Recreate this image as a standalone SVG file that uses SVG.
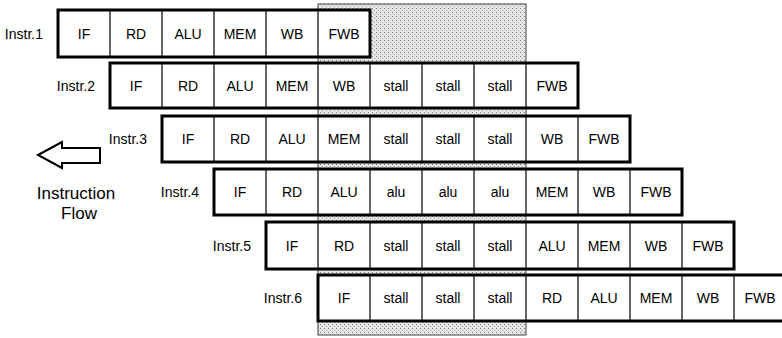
<svg xmlns="http://www.w3.org/2000/svg" width="782" height="338" viewBox="0 0 782 338">
<style>
text{font-family:"Liberation Sans",Arial,Helvetica,sans-serif;fill:#000}
.c{font-size:14px;text-anchor:middle}
.l{font-size:14px;text-anchor:end}
.f{font-size:17px;text-anchor:middle}
.row{fill:#fff;stroke:#000;stroke-width:3}
.div{stroke:#000;stroke-width:1.2}
</style>
<defs>
<pattern id="dots" width="4" height="4" patternUnits="userSpaceOnUse">
<rect width="4" height="4" fill="#e6e6e6"/>
<rect x="0" y="0" width="1" height="1" fill="#7a7a7a"/>
<rect x="2" y="2" width="1" height="1" fill="#9a9a9a"/>
</pattern>
</defs>
<rect id="shade" x="318" y="4" width="208" height="331" fill="url(#dots)" stroke="#444" stroke-width="1"/>
<g id="connectors"></g>
<g id="flow-arrow">
<path d="M38,155 L62,142 L62,148 L100,148 L100,163 L62,163 L62,168 Z" fill="#fff" stroke="#000" stroke-width="2" stroke-linejoin="miter"/>
<text class="f" x="76" y="199">Instruction</text>
<text class="f" x="79" y="219">Flow</text>
</g>
<g id="instr1">
<text class="l" x="43" y="39">Instr.1</text>
<rect class="row" x="58" y="10" width="312" height="47"/>
<path class="div" d="M110,10V57M162,10V57M214,10V57M266,10V57M318,10V57"/>
<text class="c" x="84" y="39">IF</text><text class="c" x="136" y="39">RD</text><text class="c" x="188" y="39">ALU</text><text class="c" x="240" y="39">MEM</text><text class="c" x="292" y="39">WB</text><text class="c" x="344" y="39">FWB</text>
</g>
<g id="instr2">
<text class="l" x="95" y="91">Instr.2</text>
<rect class="row" x="110" y="63" width="468" height="45"/>
<path class="div" d="M162,63V108M214,63V108M266,63V108M318,63V108M370,63V108M422,63V108M474,63V108M526,63V108"/>
<text class="c" x="136" y="91">IF</text><text class="c" x="188" y="91">RD</text><text class="c" x="240" y="91">ALU</text><text class="c" x="292" y="91">MEM</text><text class="c" x="344" y="91">WB</text><text class="c" x="396" y="91">stall</text><text class="c" x="448" y="91">stall</text><text class="c" x="500" y="91">stall</text><text class="c" x="552" y="91">FWB</text>
</g>
<g id="instr3">
<text class="l" x="147" y="144">Instr.3</text>
<rect class="row" x="162" y="116" width="468" height="46"/>
<path class="div" d="M214,116V162M266,116V162M318,116V162M370,116V162M422,116V162M474,116V162M526,116V162M578,116V162"/>
<text class="c" x="188" y="144">IF</text><text class="c" x="240" y="144">RD</text><text class="c" x="292" y="144">ALU</text><text class="c" x="344" y="144">MEM</text><text class="c" x="396" y="144">stall</text><text class="c" x="448" y="144">stall</text><text class="c" x="500" y="144">stall</text><text class="c" x="552" y="144">WB</text><text class="c" x="604" y="144">FWB</text>
</g>
<g id="instr4">
<text class="l" x="199" y="197">Instr.4</text>
<rect class="row" x="214" y="169" width="468" height="46"/>
<path class="div" d="M266,169V215M318,169V215M370,169V215M422,169V215M474,169V215M526,169V215M578,169V215M630,169V215"/>
<text class="c" x="240" y="197">IF</text><text class="c" x="292" y="197">RD</text><text class="c" x="344" y="197">ALU</text><text class="c" x="396" y="197">alu</text><text class="c" x="448" y="197">alu</text><text class="c" x="500" y="197">alu</text><text class="c" x="552" y="197">MEM</text><text class="c" x="604" y="197">WB</text><text class="c" x="656" y="197">FWB</text>
</g>
<g id="instr5">
<text class="l" x="251" y="251">Instr.5</text>
<rect class="row" x="266" y="222" width="468" height="47"/>
<path class="div" d="M318,222V269M370,222V269M422,222V269M474,222V269M526,222V269M578,222V269M630,222V269M682,222V269"/>
<text class="c" x="292" y="251">IF</text><text class="c" x="344" y="251">RD</text><text class="c" x="396" y="251">stall</text><text class="c" x="448" y="251">stall</text><text class="c" x="500" y="251">stall</text><text class="c" x="552" y="251">ALU</text><text class="c" x="604" y="251">MEM</text><text class="c" x="656" y="251">WB</text><text class="c" x="708" y="251">FWB</text>
</g>
<g id="instr6">
<text class="l" x="302" y="303">Instr.6</text>
<rect class="row" x="318" y="275" width="468" height="46"/>
<path class="div" d="M370,275V321M422,275V321M474,275V321M526,275V321M578,275V321M630,275V321M682,275V321M734,275V321"/>
<text class="c" x="344" y="303">IF</text><text class="c" x="396" y="303">stall</text><text class="c" x="448" y="303">stall</text><text class="c" x="500" y="303">stall</text><text class="c" x="552" y="303">RD</text><text class="c" x="604" y="303">ALU</text><text class="c" x="656" y="303">MEM</text><text class="c" x="708" y="303">WB</text><text class="c" x="760" y="303">FWB</text>
</g>
</svg>
